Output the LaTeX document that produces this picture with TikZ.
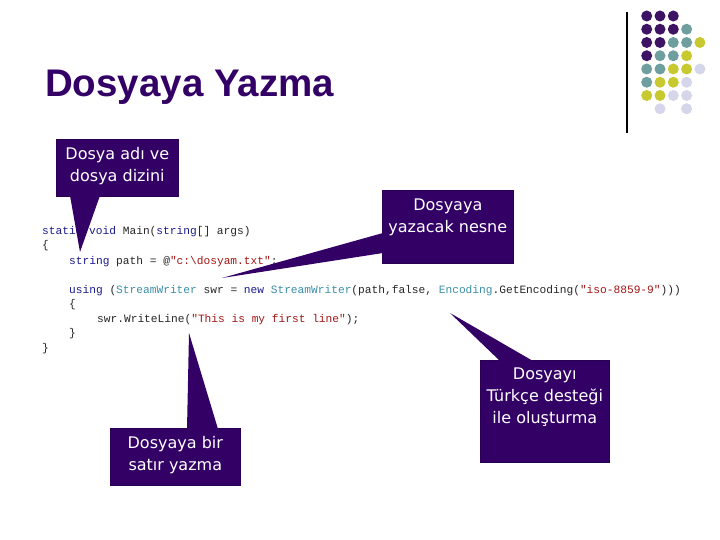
\documentclass[tikz,border=0pt]{standalone}
\usepackage{fontspec}
\setmainfont{Liberation Sans}
\setmonofont{Liberation Mono}
\newfontfamily\calloutfont{DejaVu Sans}
\usetikzlibrary{positioning}
\definecolor{callfill}{HTML}{330066}
\definecolor{titlecol}{HTML}{330066}
\definecolor{dotP}{HTML}{3F1363}
\definecolor{dotT}{HTML}{6E9E9E}
\definecolor{dotY}{HTML}{C8C830}
\definecolor{dotL}{HTML}{D6D6EA}
\definecolor{kwcol}{HTML}{1A1A8C}
\definecolor{tycol}{HTML}{3A8FA8}
\definecolor{strcol}{HTML}{A31515}
\newcommand{\ckw}[1]{\textcolor{kwcol}{#1}}
\newcommand{\cty}[1]{\textcolor{tycol}{#1}}
\newcommand{\cstr}[1]{\textcolor{strcol}{#1}}
\tikzset{
  slidetitle/.style = {anchor=base west, inner sep=0pt, text=titlecol,
                       font=\bfseries\fontsize{38.5}{46}\selectfont},
  codeln/.style     = {anchor=base west, inner sep=0pt, text=black!85,
                       font=\ttfamily\fontsize{11.2}{14}\selectfont},
  callbox/.style    = {fill=callfill, draw=callfill!80!black, line width=0.6pt,
                       anchor=north west, inner sep=0pt},
  calltext/.style   = {text=white, align=center, inner sep=0pt,
                       font=\calloutfont\fontsize{16}{22}\selectfont},
  tail/.style       = {fill=callfill, draw=none},
  dot/.style        = {circle, inner sep=0pt, minimum size=11pt},
}

\begin{document}
\begin{tikzpicture}[x=1pt, y=-1pt]
\useasboundingbox (0,0) rectangle (720,540);

% title and corner ornament
\node[slidetitle] (title) at (45,97) {Dosyaya Yazma};
\coordinate (barTop) at (627,12);
\coordinate (barBot) at (627,133);
\draw[line width=1.4pt] (barTop) -- (barBot);
\foreach \c/\r/\col in {1/1/dotP,2/1/dotP,3/1/dotP,
    1/2/dotP,2/2/dotP,3/2/dotP,4/2/dotT,
    1/3/dotP,2/3/dotP,3/3/dotT,4/3/dotT,5/3/dotY,
    1/4/dotP,2/4/dotT,3/4/dotT,4/4/dotY,
    1/5/dotT,2/5/dotT,3/5/dotY,4/5/dotY,5/5/dotL,
    1/6/dotT,2/6/dotY,3/6/dotY,4/6/dotL,
    1/7/dotY,2/7/dotY,3/7/dotL,4/7/dotL,
    2/8/dotL,4/8/dotL}
  \node[dot, fill=\col] (d\c\r) at ({633.4+13.3*\c},{2.75+13.25*\r}) {};

% code lines
\node[codeln] (c1) at (42,235) {\ckw{static} \ckw{void} Main(\ckw{string}[] args)};
\node[codeln] (c2) at (42,248) {\{};
\node[codeln] (c3) at (69,264) {\ckw{string} path = @\cstr{"c:\textbackslash dosyam.txt"};};
\node[codeln] (c4) at (69,293) {\ckw{using} (\cty{StreamWriter} swr = \ckw{new} \cty{StreamWriter}(path,false, \cty{Encoding}.GetEncoding(\cstr{"iso-8859-9"})))};
\node[codeln] (c5) at (69,307) {\{};
\node[codeln] (c6) at (97,322) {swr.WriteLine(\cstr{"This is my first line"});};
\node[codeln] (c7) at (69,336) {\}};
\node[codeln] (c8) at (42,351) {\}};

% callouts
\coordinate (tipName)  at (80,252);
\coordinate (tipObj)   at (222,278);
\coordinate (tipEnc)   at (450,313);
\coordinate (tipLine)  at (189,333);

\node[callbox, minimum width=122pt, minimum height=57pt] (nameBox) at (56,139) {};
\fill[tail] ([xshift=14pt,yshift=1pt]nameBox.south west) -- (tipName)
  -- ([xshift=44pt,yshift=1pt]nameBox.south west) -- cycle;
\node[calltext] (nameTxt) at ([yshift=1.5pt]nameBox.center) {Dosya adı ve\\dosya dizini};

\node[callbox, minimum width=131pt, minimum height=73pt] (objBox) at (382,190) {};
\fill[tail] ([xshift=1pt,yshift=-43pt]objBox.north west) -- (tipObj)
  -- ([xshift=1pt,yshift=-63pt]objBox.north west) -- cycle;
\node[calltext] (objTxt) at ([yshift=9.5pt]objBox.center) {Dosyaya\\yazacak nesne};

\node[callbox, minimum width=129pt, minimum height=102pt] (encBox) at (480,360) {};
\fill[tail] ([xshift=20pt,yshift=-1pt]encBox.north west) -- (tipEnc)
  -- ([xshift=53pt,yshift=-1pt]encBox.north west) -- cycle;
\node[calltext] (encTxt) at ([yshift=14.5pt]encBox.center) {Dosyayı\\Türkçe desteği\\ile oluşturma};

\node[callbox, minimum width=130pt, minimum height=57pt] (lineBox) at (110,428) {};
\fill[tail] ([xshift=77pt,yshift=-1pt]lineBox.north west) -- (tipLine)
  -- ([xshift=108pt,yshift=-1pt]lineBox.north west) -- cycle;
\node[calltext] (lineTxt) at ([yshift=2pt]lineBox.center) {Dosyaya bir\\satır yazma};
\end{tikzpicture}
\end{document}
